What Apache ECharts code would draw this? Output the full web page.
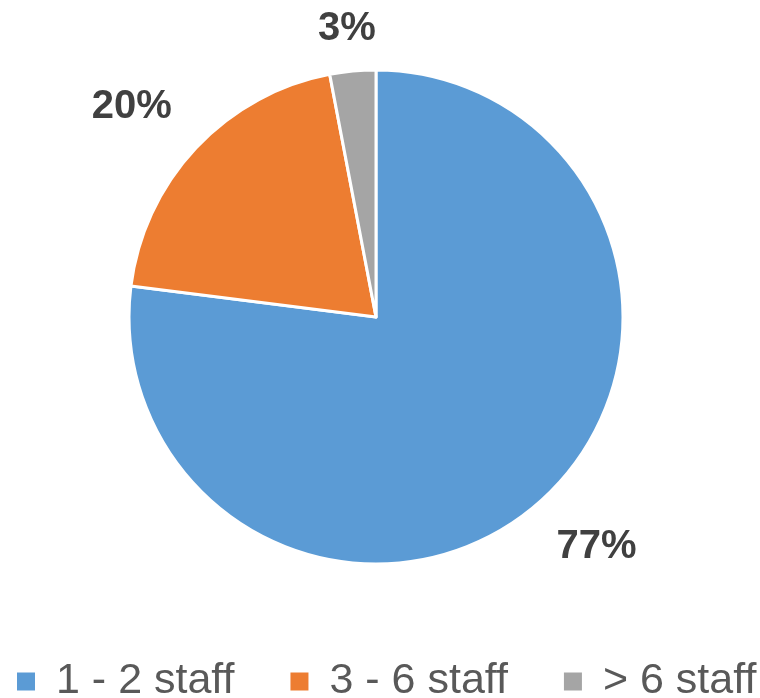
<!DOCTYPE html>
<html>
<head>
<meta charset="utf-8">
<script src="https://cdn.jsdelivr.net/npm/echarts@6/dist/echarts.min.js"></script>
<style>
html,body{margin:0;padding:0;background:#fff;}
#chart{width:760px;height:698px;}
</style>
</head>
<body>
<div id="chart"></div>
<script>
const categories = ['1 - 2 staff', '3 - 6 staff', '> 6 staff'];
const values = [77, 20, 3];
const colors = ['#5B9BD5', '#ED7D31', '#A5A5A5'];

const CX = 376, CY = 317, R = 247, GAP = 33;
const total = values.reduce((a, b) => a + b, 0);
const midAngles = [];
let cum = 0;
values.forEach(v => { midAngles.push(2 * Math.PI * (cum + v / 2) / total); cum += v; });

const chart = echarts.init(document.getElementById('chart'), null, {renderer: 'canvas'});
chart.setOption({
  animation: false,
  backgroundColor: '#ffffff',
  color: colors,
  legend: {
    data: categories,
    left: 15,
    top: 660,
    width: 780,
    icon: 'rect',
    itemWidth: 20,
    itemHeight: 20,
    itemGap: 54,
    padding: 0,
    selectedMode: false,
    textStyle: {
      fontFamily: 'Liberation Sans, Arial, sans-serif',
      fontSize: 43,
      color: '#595959',
      padding: [0, 0, 0, 15]
    }
  },
  series: [{
    type: 'pie',
    center: [CX, CY],
    radius: R,
    startAngle: 90,
    clockwise: true,
    silent: true,
    itemStyle: {borderColor: '#ffffff', borderWidth: 3},
    label: {
      show: true,
      position: 'outside',
      formatter: '{c}%',
      fontFamily: 'Liberation Sans, Arial, sans-serif',
      fontWeight: 'bold',
      fontSize: 40,
      color: '#404040'
    },
    labelLine: {show: false},
    labelLayout: function (p) {
      const a = midAngles[p.dataIndex];
      const ux = Math.sin(a), uy = -Math.cos(a);
      const m = Math.max(Math.abs(ux), Math.abs(uy));
      const w = p.labelRect.width, h = p.labelRect.height;
      const px = CX + ux * (R + GAP), py = CY + uy * (R + GAP);
      return {
        x: px + (ux / m) * w / 2,
        y: py + (uy / m) * h / 2 * (Math.abs(uy) > 0.95 ? 0.45 : 1),
        align: 'center',
        verticalAlign: 'middle'
      };
    },
    data: categories.map((c, i) => ({name: c, value: values[i]}))
  }]
});
</script>
</body>
</html>
